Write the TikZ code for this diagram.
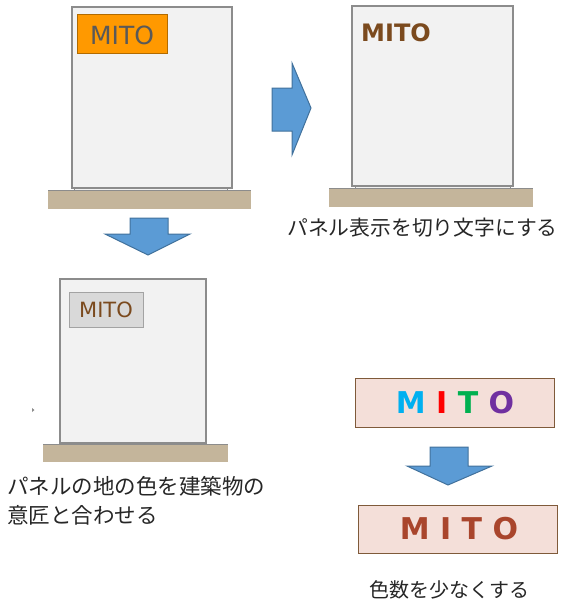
\documentclass[tikz,border=0pt]{standalone}
\usepackage{fontspec}
\setmainfont{DejaVu Sans}
\newfontfamily\jpfont{Noto Sans CJK JP}
\usepackage{tikz}
\usetikzlibrary{calc}
\definecolor{wallgray}{HTML}{F2F2F2}
\definecolor{edgegray}{HTML}{8C8C8C}
\definecolor{groundtan}{HTML}{C4B59B}
\definecolor{arrowblue}{HTML}{5B9BD5}
\definecolor{arrowedge}{HTML}{41719C}
\definecolor{panelorange}{HTML}{FF9900}
\definecolor{panelgray}{HTML}{D9D9D9}
\definecolor{letterbrown}{HTML}{7B4A1E}
\definecolor{letterdark}{HTML}{595959}
\definecolor{signpink}{HTML}{F4DFD9}
\definecolor{signedge}{HTML}{7F5A3A}
\definecolor{signred}{HTML}{A9452C}
\definecolor{mcyan}{HTML}{00B0F0}
\definecolor{mred}{HTML}{FF0000}
\definecolor{mgreen}{HTML}{00B050}
\definecolor{mpurple}{HTML}{7030A0}
\tikzset{
  wall/.style={draw=edgegray, fill=wallgray, line width=1.1pt},
  ground/.style={fill=groundtan, draw=none},
  groundtop/.style={draw=edgegray, line width=1pt},
  blockarrow/.style={draw=arrowedge, fill=arrowblue, line width=1pt, line join=miter},
  caption/.style={font=\jpfont\fontsize{21.5}{29}\selectfont, text=black!85, inner sep=0pt},
  mito/.style={inner sep=0pt, font=\fontsize{25}{25}\selectfont}
}

\begin{document}
\begin{tikzpicture}[x=1pt, y=-1pt]
      \useasboundingbox (0,0) rectangle (563,608);
      % building with orange panel
      \fill[ground] (48,190) rectangle (251,209);
      \draw[groundtop] (48,190) -- (251,190);
      \draw[wall, line width=.5pt] (74,188) rectangle (227,190);
      \draw[wall] (72,7) rectangle (232,188);
      \draw[draw=panelorange!70!black, fill=panelorange, line width=.8pt] (77,14) rectangle (167,53);
      \node[mito, text=letterdark] (mitoA) at (122,35) {MITO};
      % arrow down
      \draw[blockarrow] (130,218) -- (168,218) -- (168,234) -- (190,234) -- (148,255)
            -- (105,234) -- (130,234) -- cycle;
      % arrow right
      \draw[blockarrow] (272,88) -- (292,88) -- (292,63) -- (311,108) -- (292,155)
            -- (292,131) -- (272,131) -- cycle;
      % building with cut letters
      \fill[ground] (329,188) rectangle (533,207);
      \draw[groundtop] (329,188) -- (533,188);
      \draw[wall, line width=.5pt] (355,186) rectangle (510,188);
      \draw[wall] (352,6) rectangle (513,186);
      \node[mito, text=letterbrown, font=\bfseries\fontsize{24}{24}\selectfont] (mitoB) at (396,33) {MITO};
      \node[caption, font=\jpfont\fontsize{20.8}{20.8}\selectfont, anchor=west] (capB) at (287,228) {パネル表示を切り文字にする};
      % building with gray panel
      \fill[ground] (43,444) rectangle (228,462);
      \draw[groundtop] (43,444) -- (228,444);
      \draw[wall, line width=.5pt] (66,442) rectangle (204,444);
      \draw[wall] (60,279) rectangle (206,443);
      \draw[draw=edgegray!80, fill=panelgray, line width=.8pt] (69,292) rectangle (143,327);
      \node[mito, text=letterbrown, font=\fontsize{21}{21}\selectfont] (mitoC) at (106,310) {MITO};
      \fill[edgegray] (32,408) -- (34.5,410) -- (32,412) -- cycle;
      \node[caption, anchor=west] (capC1) at (7,486) {パネルの地の色を建築物の};
      \node[caption, anchor=west] (capC2) at (7,515) {意匠と合わせる};
      % colour count signs
      \draw[draw=signedge, fill=signpink, line width=.8pt] (355,378) rectangle (554,427);
      \node[mito, font=\bfseries\fontsize{30}{30}\selectfont] (mitoD) at (455,403)
            {{\color{mcyan}M} {\color{mred}I} {\color{mgreen}T} {\color{mpurple}O}};
      \draw[blockarrow] (430,447) -- (468,447) -- (468,466) -- (492,466) -- (448,485)
            -- (407,466) -- (430,466) -- cycle;
      \draw[draw=signedge, fill=signpink, line width=.8pt] (358,505) rectangle (557,553);
      \node[mito, text=signred, font=\bfseries\fontsize{30}{30}\selectfont] (mitoE) at (459,529) {M I T O};
      \node[caption, font=\jpfont\fontsize{20}{20}\selectfont, anchor=west] (capE) at (369,590) {色数を少なくする};
\end{tikzpicture}
\end{document}
